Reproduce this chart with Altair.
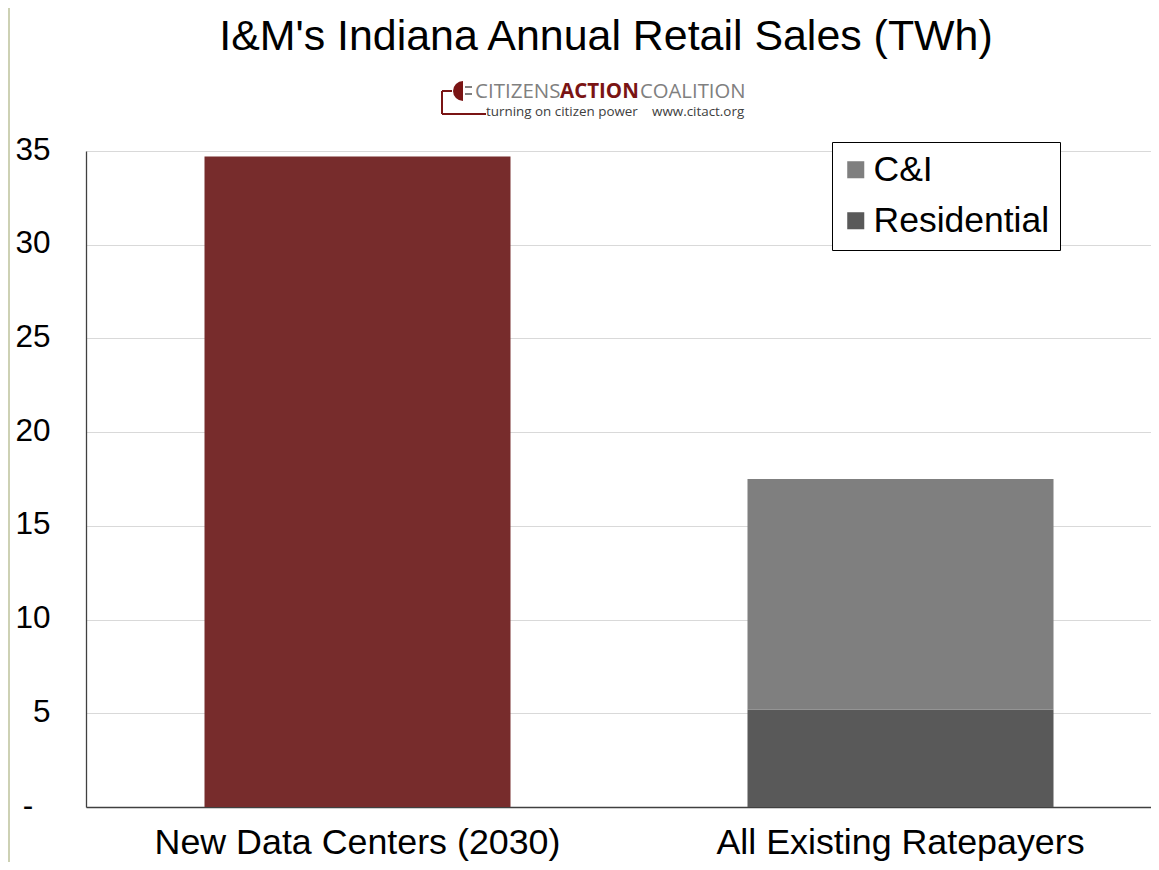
import altair as alt
import math
import pandas as pd

categories = ["New Data Centers (2030)", "All Existing Ratepayers", "All Existing Ratepayers"]
series = ["Data Centers", "Residential", "C&I"]
values = [34.7, 5.2, 12.3]
stack_order = [0, 0, 1]
series_domain = ["C&I", "Residential", "Data Centers"]
series_colors = ["#7f7f7f", "#595959", "#772c2c"]
y_ticks = [0, 5, 10, 15, 20, 25, 30, 35]
title_text = "I&M's Indiana Annual Retail Sales (TWh)"

W, H = 1065, 656
FONT = "Liberation Sans"
df = pd.DataFrame({"cat": categories, "series": series, "value": values, "ord": stack_order})

bars = alt.Chart(df).mark_bar(size=306).encode(
    x=alt.X("cat:N", sort=categories[:2], title=None,
            scale=alt.Scale(range=[0, 1086], paddingInner=0, paddingOuter=0),
            axis=alt.Axis(labelAngle=0, labelFont=FONT, labelFontSize=35.8, labelColor="#000000",
                          ticks=False, domainColor="#404040", domainWidth=1.3, labelPadding=18,
                          labelLimit=600, grid=False)),
    y=alt.Y("value:Q", stack="zero", title=None,
            scale=alt.Scale(domain=[0, 35], nice=False),
            axis=alt.Axis(values=y_ticks,
                          labelExpr="datum.value == 0 ? '' : datum.label",
                          labelFont=FONT, labelFontSize=31.5, labelColor="#000000", labelOffset=-1,
                          ticks=False, domainColor="#404040", domainWidth=1.3,
                          gridColor="#d9d9d9", gridWidth=1, labelPadding=36)),
    color=alt.Color("series:N", scale=alt.Scale(domain=series_domain, range=series_colors),
                    legend=alt.Legend(title=None, values=["C&I", "Residential"], orient="none",
                                      legendX=746, legendY=-9, padding=10,
                                      fillColor="#ffffff", strokeColor="#000000",
                                      symbolType="square", symbolSize=290, symbolStrokeWidth=0,
                                      symbolOffset=-4, labelOffset=0, labelLimit=300,
                                      labelFont=FONT, labelFontSize=35.5, labelColor="#000000",
                                      rowPadding=14)),
    order=alt.Order("ord:Q"),
)

def text(label, px, py, size, color, weight="normal", font="Open Sans", align="left"):
    return alt.Chart(pd.DataFrame({"t": [label]})).mark_text(
        font=font, fontSize=size, color=color, fontWeight=weight, align=align, baseline="middle", clip=False
    ).encode(x=alt.value(px - 86), y=alt.value(py - 151), text="t:N")

def rule(x1, y1, x2, y2, color, width):
    return alt.Chart(pd.DataFrame({"a": [0]})).mark_rule(color=color, strokeWidth=width).encode(
        x=alt.value(x1 - 86), y=alt.value(y1 - 151), x2=alt.value(x2 - 86), y2=alt.value(y2 - 151))

RED = "#7a1414"
GREY = "#808080"
plug = alt.Chart(pd.DataFrame({"a": [0]})).mark_arc(
    color=RED, radius=10, theta=math.pi, theta2=2 * math.pi
).encode(x=alt.value(463 - 86), y=alt.value(91 - 151))

logo = [
    text("CITIZENS", 475, 92, 20.5, GREY),
    text("ACTION", 560, 92, 20.5, RED, "bold"),
    text("COALITION", 640, 92, 20.3, GREY),
    text("turning on citizen power", 486, 112, 13.4, "#404040"),
    text("www.citact.org", 652, 112, 13.4, "#404040"),
    rule(442, 91, 442, 114, RED, 2),
    rule(442, 91, 452, 91, RED, 2),
    rule(442, 114, 486, 114, RED, 2),
    plug,
    rule(465, 87, 472, 87, GREY, 2),
    rule(465, 94, 472, 94, GREY, 2),
]

chart = alt.layer(
    bars,
    text(title_text, 606, 37, 42.9, "#000000", font=FONT, align="center"),
    text("-", 28, 807, 31.5, "#000000", font=FONT, align="center"),
    *logo,
    rule(9, 8, 9, 862, "#cdd1b4", 2),
).resolve_scale(color="independent").properties(
    width=W, height=H,
    padding={"left": 78, "top": 143, "right": 0, "bottom": 55},
    autosize=alt.AutoSizeParams(type="none"),
).configure_view(stroke=None)

chart.save("out.html", embed_options={"renderer": "svg", "actions": False})
